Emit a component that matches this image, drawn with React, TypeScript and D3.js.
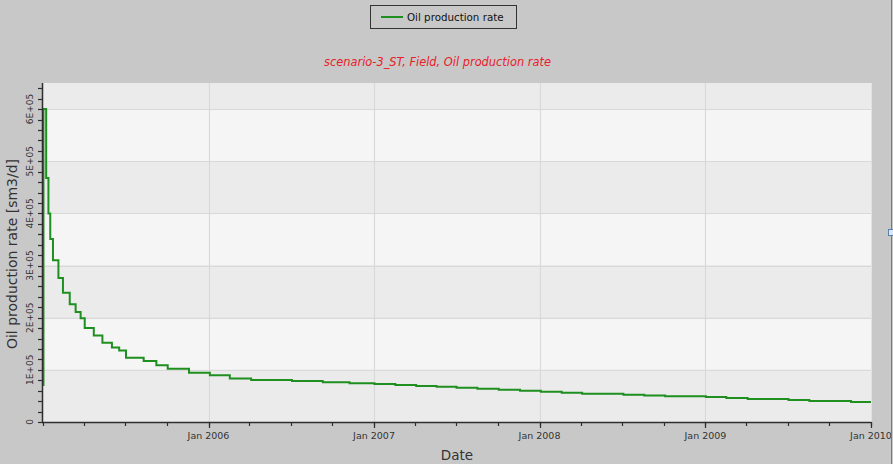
import React from "react";
import * as d3 from "d3";

const stepDates = [
  "2005-01-01", "2005-01-02", "2005-01-08", "2005-01-13", "2005-01-17", "2005-01-23",
  "2005-02-04", "2005-02-14", "2005-03-01", "2005-03-14", "2005-03-25", "2005-04-03",
  "2005-04-23", "2005-05-12", "2005-06-02", "2005-06-18", "2005-07-03", "2005-08-11",
  "2005-09-08", "2005-10-03", "2005-11-19", "2006-01-04", "2006-02-17", "2006-04-05",
  "2006-07-04", "2006-09-10", "2006-11-08", "2007-01-02", "2007-02-17", "2007-04-04",
  "2007-05-19", "2007-07-02", "2007-08-17", "2007-10-03", "2007-11-19", "2008-01-04",
  "2008-02-19", "2008-04-04", "2008-07-04", "2008-08-19", "2008-10-04", "2009-01-02",
  "2009-02-16", "2009-04-04", "2009-07-03", "2009-08-18", "2009-11-18", "2010-01-01",
];

const oilRate = [
  71000, 600000, 468000, 400000, 351000, 310000,
  276000, 248000, 226000, 211000, 199000, 180000,
  166000, 152000, 143000, 137000, 123000, 117000,
  109000, 102000, 94500, 89500, 83200, 80500,
  78700, 76000, 74200, 72800, 70900, 69000,
  67500, 65700, 63800, 61900, 60000, 58100,
  56200, 54200, 52300, 50800, 49500, 47900,
  46000, 44100, 42200, 40300, 38300, 38300,
];

const yTickValues = [0, 100000, 200000, 300000, 400000, 500000, 600000];
const yTickLabels = ["0", "1E+05", "2E+05", "3E+05", "4E+05", "5E+05", "6E+05"];
const xTickDates = ["2006-01-01", "2007-01-01", "2008-01-01", "2009-01-01", "2010-01-01"];
const xTickLabels = ["Jan 2006", "Jan 2007", "Jan 2008", "Jan 2009", "Jan 2010"];

const seriesName = "Oil production rate";
const chartTitle = "scenario-3_ST, Field, Oil production rate";
const xTitle = "Date";
const yTitle = "Oil production rate [sm3/d]";

const W = 893;
const H = 464;
const left = 43;
const right = 871;
const top = 83;
const bottom = 422;
const FONT = "'DejaVu Sans', Verdana, sans-serif";
const GREEN = "#1f8f1f";

export default function App() {
  const parse = d3.utcParse("%Y-%m-%d");
  const data = stepDates.map((d, i) => ({ date: parse(d) as Date, v: oilRate[i] }));
  const x = d3
    .scaleUtc()
    .domain([parse("2005-01-01") as Date, parse("2010-01-01") as Date])
    .range([left, right]);
  const y = d3.scaleLinear().domain([0, 650000]).range([bottom, top]);

  const line = d3
    .line<{ date: Date; v: number }>()
    .x((d) => x(d.date))
    .y((d) => y(d.v))
    .curve(d3.curveStepAfter);

  const bands = d3.range(0, 7).map((i) => ({
    y0: i * 100000,
    y1: Math.min((i + 1) * 100000, 650000),
    fill: i % 2 === 0 ? "#ebebeb" : "#f5f5f5",
  }));

  const minorY = d3.range(0, 650001, 20000);
  const minorX = d3.utcMonth.every(3)!.range(x.domain()[0], new Date(x.domain()[1].getTime() + 1));
  const xTicks = xTickDates.map((d) => parse(d) as Date);

  return (
    <div style={{ position: "absolute", left: 0, top: 0 }}>
      <svg width={W} height={H} style={{ display: "block" }}>
        <rect x={0} y={0} width={W} height={H} fill="#c8c8c8" />
        {bands.map((b, i) => (
          <rect
            key={i}
            x={left}
            y={y(b.y1)}
            width={right - left}
            height={y(b.y0) - y(b.y1)}
            fill={b.fill}
          />
        ))}
        {yTickValues.slice(1).map((v, i) => (
          <line key={"gy" + i} x1={left} x2={right} y1={Math.round(y(v)) + 0.5} y2={Math.round(y(v)) + 0.5} stroke="#d9d9d9" strokeWidth={1.2} />
        ))}
        {xTicks.slice(0, -1).map((d, i) => (
          <line key={"gx" + i} x1={Math.round(x(d)) + 0.5} x2={Math.round(x(d)) + 0.5} y1={top} y2={bottom} stroke="#d9d9d9" strokeWidth={1.2} />
        ))}
        <line x1={right + 0.5} x2={right + 0.5} y1={top} y2={bottom} stroke="#e2e2e2" strokeWidth={1} />
        <path d={line(data) || ""} fill="none" stroke={GREEN} strokeWidth={2} />
        <line x1={left - 0.5} x2={left - 0.5} y1={top} y2={bottom + 0.5} stroke="#2e2e2e" strokeWidth={1.5} />
        {minorY.map((v, i) => (
          <line key={"my" + i} x1={left - 5} x2={left} y1={Math.round(y(v)) + 0.5} y2={Math.round(y(v)) + 0.5} stroke="#2e2e2e" strokeWidth={1.2} />
        ))}
        {yTickValues.map((v, i) => (
          <text
            key={"yl" + i}
            transform={`translate(33,${y(v)}) rotate(-90)`}
            textAnchor="middle"
            fontFamily={FONT}
            fontSize={9}
            fill="#333"
          >
            {yTickLabels[i]}
          </text>
        ))}
        <line x1={left - 1} x2={right + 0.5} y1={bottom + 0.5} y2={bottom + 0.5} stroke="#2e2e2e" strokeWidth={1.5} />
        {minorX.map((d, i) => (
          <line key={"mx" + i} x1={Math.round(x(d)) + 0.5} x2={Math.round(x(d)) + 0.5} y1={bottom} y2={bottom + 4} stroke="#2e2e2e" strokeWidth={1.2} />
        ))}
        {xTicks.map((d, i) => (
          <g key={"xl" + i}>
            <line x1={Math.round(x(d)) + 0.5} x2={Math.round(x(d)) + 0.5} y1={bottom} y2={bottom + 6} stroke="#2e2e2e" strokeWidth={1.2} />
            <text x={x(d)} y={439} textAnchor="middle" fontFamily={FONT} fontSize={9.5} fill="#333">
              {xTickLabels[i]}
            </text>
          </g>
        ))}
        <text x={457} y={460} textAnchor="middle" fontFamily={FONT} fontSize={13.5} fill="#333">
          {xTitle}
        </text>
        <text transform="translate(17,254) rotate(-90)" textAnchor="middle" fontFamily={FONT} fontSize={14} fill="#333">
          {yTitle}
        </text>
        <text x={437.5} y={66} textAnchor="middle" fontFamily={FONT} fontSize={11.4} fontStyle="italic" fill="#e8202a">
          {chartTitle}
        </text>
        <rect x={370.5} y={5.5} width={146} height={23} fill="#c8c8c8" stroke="#333" strokeWidth={1} />
        <line x1={381} x2={403} y1={17} y2={17} stroke={GREEN} strokeWidth={2} />
        <text x={407} y={21} fontFamily={FONT} fontSize={10.3} fill="#111">
          {seriesName}
        </text>
        <line x1={891.5} x2={891.5} y1={0} y2={H} stroke="#5a7fb0" strokeWidth={1} />
        <rect x={888.5} y={229.5} width={5} height={6} fill="#dbe9f7" stroke="#5a7fb0" strokeWidth={1} />
      </svg>
    </div>
  );
}
